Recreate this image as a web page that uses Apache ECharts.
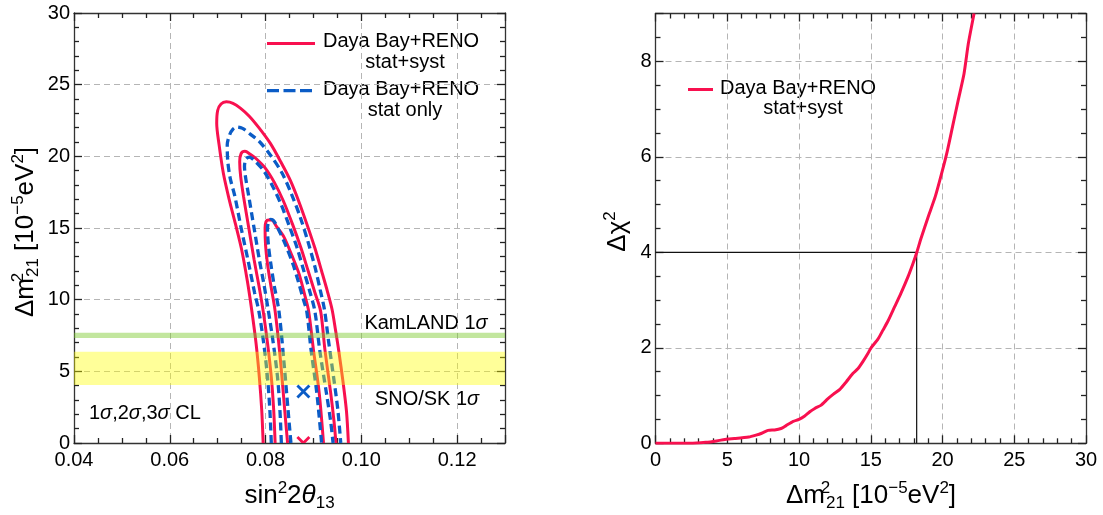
<!DOCTYPE html>
<html>
<head>
<meta charset="utf-8">
<script src="https://cdn.jsdelivr.net/npm/echarts@6/dist/echarts.min.js"></script>
<style>
html,body{margin:0;padding:0;background:#fff;}
#chart{width:1103px;height:515px;}
</style>
</head>
<body>
<div id="chart"></div>
<script>
// ---------- Left panel: allowed regions in (sin^2 2θ13, Δm^2_21 [1e-5 eV^2]) ----------
// Each contour runs from the lower-left branch, over the top, down the right branch.
const redOuter = [[0.0795,0],[0.0792,2.3],[0.0787,4.6],[0.0780,7.0],[0.0771,9.3],[0.0762,11.3],[0.0750,13.5],[0.0737,15.3],[0.0724,17.0],[0.0712,18.8],[0.0703,20.8],[0.0698,22.3],[0.0700,23.2],[0.0707,23.65],[0.0718,23.8],[0.0732,23.7],[0.0748,23.35],[0.0766,22.8],[0.0786,22.0],[0.0810,20.9],[0.0832,19.6],[0.0852,18.3],[0.0870,16.8],[0.0887,15.2],[0.0903,13.6],[0.0917,12.0],[0.0929,10.6],[0.0939,9.3],[0.0946,7.9],[0.0953,6.4],[0.0962,4.2],[0.0969,2.2],[0.0973,0]];
const redMid = [[0.0820,0],[0.0817,2.3],[0.0812,4.6],[0.0804,7.0],[0.0795,9.2],[0.0786,11.0],[0.0776,12.8],[0.0765,15.0],[0.0754,17.2],[0.0748,18.6],[0.0746,19.6],[0.0749,20.2],[0.0757,20.35],[0.0768,20.15],[0.0780,19.85],[0.0799,19.2],[0.0818,18.2],[0.0837,16.9],[0.0857,15.2],[0.0874,13.6],[0.0889,12.0],[0.0903,10.5],[0.0915,9.2],[0.0924,6.5],[0.0936,3.5],[0.0943,1.5],[0.0947,0]];
const redInner = [[0.0846,0],[0.0840,2.3],[0.0831,5.8],[0.0820,9.2],[0.0810,11.2],[0.0804,12.5],[0.0800,13.8],[0.0799,15.0],[0.0801,15.45],[0.0806,15.55],[0.0813,15.55],[0.0822,15.15],[0.0838,14.4],[0.0856,13.0],[0.0870,11.8],[0.0882,10.3],[0.0890,9.2],[0.0900,6.5],[0.0912,3.5],[0.0921,0]];
const blueOuter = [[0.0812,0],[0.0809,2.3],[0.0804,4.6],[0.0796,7.0],[0.0786,9.2],[0.0777,10.5],[0.0764,12.65],[0.0749,15.0],[0.0736,17.2],[0.0726,18.5],[0.0721,19.7],[0.0720,20.8],[0.0725,21.5],[0.0732,21.9],[0.0740,22.05],[0.0752,21.95],[0.0768,21.55],[0.0788,21.0],[0.0812,20.0],[0.0835,18.8],[0.0855,17.3],[0.0873,15.7],[0.0889,14.0],[0.0903,12.3],[0.0914,10.7],[0.0923,9.3],[0.0932,7.0],[0.0942,4.6],[0.0951,2.3],[0.0957,0]];
const blueMid = [[0.0833,0],[0.0830,2.3],[0.0825,4.6],[0.0816,7.0],[0.0806,9.2],[0.0797,11.0],[0.0787,12.8],[0.0776,15.0],[0.0765,17.2],[0.0758,18.6],[0.0756,19.3],[0.0759,19.8],[0.0766,19.95],[0.0777,19.7],[0.0796,19.0],[0.0815,17.9],[0.0833,16.6],[0.0850,15.1],[0.0866,13.6],[0.0880,12.0],[0.0893,10.5],[0.0903,9.2],[0.0913,6.5],[0.0927,3.5],[0.0936,1.5],[0.0941,0]];
const blueInner = [[0.0853,0],[0.0847,2.3],[0.0838,5.8],[0.0828,9.2],[0.0818,11.0],[0.0811,12.5],[0.0806,13.8],[0.0804,14.9],[0.0806,15.4],[0.0811,15.6],[0.0817,15.5],[0.0827,14.9],[0.0842,13.8],[0.0857,12.5],[0.0869,11.2],[0.0879,10.0],[0.0886,9.2],[0.0895,6.5],[0.0907,3.5],[0.0917,0]];

// Best-fit points
const bestFitStatOnly = [0.0879, 3.6];
const bestFitStatSyst = [0.0879, 0.0];

// Solar / KamLAND 1σ bands in Δm^2_21
const bandNames = ['KamLAND', 'SNO/SK'];
const bandLow  = [7.32, 4.05];
const bandHigh = [7.70, 6.37];

// ---------- Right panel: Δχ² profile vs Δm^2_21 ----------
const dm21 = [0, 2.4, 3.5, 4.25, 5.0, 5.5, 6.5, 7.0, 7.4, 7.85, 8.3, 8.75, 9.1, 9.6, 10.0, 10.4, 10.75, 11.1, 11.55, 12.0, 12.4, 12.85, 13.3, 13.75, 14.1, 14.45, 14.8, 15.0, 15.5, 15.85, 16.2, 16.65, 17.1, 17.6, 17.95, 18.2, 18.5, 19.0, 19.5, 20.0, 20.35, 20.7, 21.1, 21.5, 21.8, 22.2];
const chi2 = [0, 0, 0.02, 0.05, 0.09, 0.10, 0.13, 0.17, 0.21, 0.27, 0.28, 0.31, 0.37, 0.46, 0.50, 0.57, 0.66, 0.73, 0.80, 0.93, 1.03, 1.13, 1.29, 1.46, 1.56, 1.71, 1.88, 1.99, 2.18, 2.37, 2.56, 2.85, 3.14, 3.49, 3.77, 3.99, 4.29, 4.74, 5.17, 5.72, 6.14, 6.63, 7.19, 7.74, 8.37, 9.0];
const chi2Level = 4;
const dm21AtLevel = 18.2;

// ---------- Styling ----------
const FONT = '"Liberation Sans", Arial, Helvetica, sans-serif';
const RED = '#f8104f';
const BLUE = '#0b5cc6';
const AXIS = '#333';
const GRIDC = '#b5b5b5';
const TICKC = '#222';

function frameAxis(gridIndex, position, min, max, interval, minorSplit, primary, fmt) {
  return {
    type: 'value', gridIndex, position, min, max, interval,
    axisLine: { show: true, onZero: false, lineStyle: { color: AXIS, width: 1.3 } },
    axisTick: { show: true, inside: true, length: 8, lineStyle: { color: TICKC, width: 1.3 } },
    minorTick: { show: true, splitNumber: minorSplit, length: 5, lineStyle: { color: TICKC, width: 1.3 } },
    splitLine: { show: primary, lineStyle: { color: GRIDC, width: 1, type: [6, 4] } },
    minorSplitLine: { show: false },
    axisLabel: {
      show: primary, showMaxLabel: max % interval === 0, margin: position === 'bottom' ? 7 : 4,
      fontSize: 20, fontFamily: FONT, color: '#000', formatter: fmt
    }
  };
}

const leftFmt = v => v.toFixed(2);
const intFmt = v => String(Math.round(v));

function contour(data, color, dashed) {
  return {
    type: 'line', xAxisIndex: 0, yAxisIndex: 0, data, showSymbol: false, smooth: 0.3,
    silent: true, z: 2,
    lineStyle: { color, width: dashed ? 3.3 : 3, type: dashed ? [8, 4.5] : 'solid', cap: 'butt' }
  };
}

const bandColors = ['rgba(120,200,40,0.45)', 'rgba(255,255,0,0.40)'];

function renderBand(params, api) {
  const cs = params.coordSys;
  const yTop = api.coord([0.04, api.value(1)])[1];
  const yBot = api.coord([0.04, api.value(0)])[1];
  return { type: 'rect', shape: { x: cs.x, y: yTop, width: cs.width, height: yBot - yTop },
           style: { fill: bandColors[params.dataIndex] } };
}

function renderCross(params, api) {
  const c = api.coord([api.value(0), api.value(1)]);
  const h = 6;
  const col = api.visual('color');
  return { type: 'group', children: [
    { type: 'line', shape: { x1: c[0]-h, y1: c[1]-h, x2: c[0]+h, y2: c[1]+h }, style: { stroke: col, lineWidth: 2.8 } },
    { type: 'line', shape: { x1: c[0]-h, y1: c[1]+h, x2: c[0]+h, y2: c[1]-h }, style: { stroke: col, lineWidth: 2.8 } }
  ] };
}

// rich-text pieces for titles and annotations
const titleRich = {
  b:   { fontSize: 26, fontFamily: FONT, fill: '#000', lineHeight: 32 },
  i:   { fontSize: 26, fontFamily: FONT, fill: '#000', lineHeight: 32, fontStyle: 'italic' },
  sup: { fontSize: 17, fontFamily: FONT, fill: '#000', lineHeight: 17, verticalAlign: 'top' },
  supS:{ fontSize: 17, fontFamily: FONT, fill: '#000', lineHeight: 17, verticalAlign: 'top', width: 1 },
  sub: { fontSize: 17, fontFamily: FONT, fill: '#000', lineHeight: 12, verticalAlign: 'bottom' }
};
const noteRich = {
  t: { fontSize: 20, fontFamily: FONT, fill: '#000' },
  i: { fontSize: 20, fontFamily: FONT, fill: '#000', fontStyle: 'italic' }
};
const dmTitle = '{b|Δm}{supS|2}{sub|21}{b| [10}{sup|−5}{b|eV}{sup|2}{b|]}';

function txt(x, y, text, rich, align, extra) {
  return Object.assign({ type: 'text', x, y, silent: true,
    style: { text, rich, align: align || 'center', verticalAlign: 'middle', fontSize: 20, fontFamily: FONT, fill: '#000' } }, extra || {});
}

const chart = echarts.init(document.getElementById('chart'), null, { renderer: 'canvas' });
chart.setOption({
  animation: false,
  backgroundColor: '#fff',
  grid: [
    { left: 74, top: 13, width: 431, height: 430 },
    { left: 655.5, top: 13.5, width: 430.5, height: 429.8 }
  ],
  xAxis: [
    frameAxis(0, 'bottom', 0.04, 0.13, 0.02, 4, true, leftFmt),
    frameAxis(0, 'top', 0.04, 0.13, 0.02, 4, false, leftFmt),
    frameAxis(1, 'bottom', 0, 30, 5, 5, true, intFmt),
    frameAxis(1, 'top', 0, 30, 5, 5, false, intFmt)
  ],
  yAxis: [
    frameAxis(0, 'left', 0, 30, 5, 5, true, intFmt),
    frameAxis(0, 'right', 0, 30, 5, 5, false, intFmt),
    frameAxis(1, 'left', 0, 9, 2, 4, true, intFmt),
    frameAxis(1, 'right', 0, 9, 2, 4, false, intFmt)
  ],
  series: [
    contour(redOuter, RED, false),
    contour(redMid, RED, false),
    contour(redInner, RED, false),
    contour(blueOuter, BLUE, true),
    contour(blueMid, BLUE, true),
    contour(blueInner, BLUE, true),
    {
      type: 'custom', name: 'bands', xAxisIndex: 0, yAxisIndex: 0, z: 3, silent: true,
      encode: { y: [0, 1] },
      data: bandLow.map((lo, i) => [lo, bandHigh[i], bandNames[i]]),
      renderItem: renderBand
    },
    {
      type: 'custom', xAxisIndex: 0, yAxisIndex: 0, z: 4, silent: true, clip: true,
      itemStyle: { color: BLUE }, data: [bestFitStatOnly], renderItem: renderCross
    },
    {
      type: 'custom', xAxisIndex: 0, yAxisIndex: 0, z: 4, silent: true, clip: true,
      itemStyle: { color: RED }, data: [bestFitStatSyst], renderItem: renderCross
    },
    {
      type: 'line', xAxisIndex: 2, yAxisIndex: 2, showSymbol: false, silent: true, z: 1,
      data: [[0, chi2Level], [dm21AtLevel, chi2Level], [dm21AtLevel, 0]],
      lineStyle: { color: '#111', width: 1.2 }
    },
    {
      type: 'line', xAxisIndex: 2, yAxisIndex: 2, showSymbol: false, silent: true, z: 2, smooth: 0.2,
      data: dm21.map((x, i) => [x, chi2[i]]),
      lineStyle: { color: RED, width: 3 }
    }
  ],
  graphic: [
    // left legend
    { type: 'line', silent: true, shape: { x1: 267, y1: 43.5, x2: 315, y2: 43.5 }, style: { stroke: RED, lineWidth: 3 } },
    txt(323, 41.7, 'Daya Bay+RENO', null, 'left'),
    txt(405, 62.7, 'stat+syst'),
    { type: 'line', silent: true, shape: { x1: 267, y1: 90.7, x2: 312, y2: 90.7 }, style: { stroke: BLUE, lineWidth: 3.3, lineDash: [12, 4.5] } },
    txt(323, 89, 'Daya Bay+RENO', null, 'left'),
    txt(405, 110, 'stat only'),
    // band and confidence level notes
    txt(426, 323, '{t|KamLAND 1}{i|σ}', noteRich),
    txt(427, 399.5, '{t|SNO/SK 1}{i|σ}', noteRich),
    txt(89, 413, '{t|1}{i|σ}{t|,2}{i|σ}{t|,3}{i|σ}{t| CL}', noteRich, 'left'),
    // right legend
    { type: 'line', silent: true, shape: { x1: 688, y1: 89.5, x2: 713, y2: 89.5 }, style: { stroke: RED, lineWidth: 3 } },
    txt(720, 88.3, 'Daya Bay+RENO', null, 'left'),
    txt(803, 108.3, 'stat+syst'),
    // axis titles
    txt(289.5, 496, '{b|sin}{sup|2}{b|2}{i|θ}{sub|13}', titleRich),
    txt(25.5, 232, dmTitle, titleRich, 'center', { rotation: Math.PI / 2 }),
    txt(871, 496, dmTitle, titleRich),
    txt(618, 231.5, '{b|Δχ}{sup|2}', titleRich, 'center', { rotation: Math.PI / 2 })
  ]
});
</script>
</body>
</html>
